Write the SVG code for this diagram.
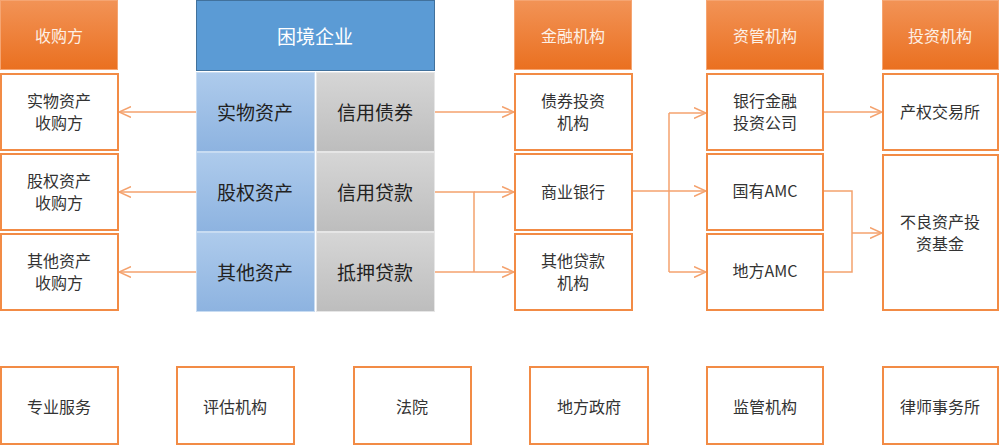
<svg xmlns="http://www.w3.org/2000/svg" width="1000" height="446" viewBox="0 0 1000 446">
<defs>
<linearGradient id="gOrange" x1="0" y1="0" x2="0" y2="1"><stop offset="0" stop-color="#F29356"/><stop offset="1" stop-color="#EA7020"/></linearGradient>
<linearGradient id="gBlue" x1="0" y1="0" x2="0" y2="1"><stop offset="0" stop-color="#AECBEC"/><stop offset="1" stop-color="#8DB3E0"/></linearGradient>
<linearGradient id="gGray" x1="0" y1="0" x2="0" y2="1"><stop offset="0" stop-color="#D6D6D6"/><stop offset="1" stop-color="#BDBDBD"/></linearGradient>
<marker id="arr" viewBox="0 0 10 10" refX="10" refY="5" markerWidth="12" markerHeight="12" markerUnits="userSpaceOnUse" orient="auto"><path d="M0,0.5 L10,5 L0,9.5" fill="none" stroke="#F4A26E" stroke-width="1.3"/></marker>
</defs>
<style>
text{font-family:"Noto Sans CJK SC","Microsoft YaHei",sans-serif;text-anchor:middle;dominant-baseline:central}
.hdr{fill:url(#gOrange);stroke:#F5A572;stroke-width:1}
.hdrt{fill:#FDF0E6;font-size:16px}
.box{fill:#FFFFFF;stroke:#F28B45;stroke-width:2}
.bt{fill:#333333;font-size:16px}
.blue{fill:url(#gBlue);stroke:#C8DCF2;stroke-width:1}
.gray{fill:url(#gGray);stroke:#E6E6E6;stroke-width:1}
.ct{fill:#222222;font-size:19px}
.ln{fill:none;stroke:#F4A26E;stroke-width:1.5}
</style>
<rect width="1000" height="446" fill="#FFFFFF"/>

<g id="col-buyer">
<g id="h1"><rect class="hdr" x="0.5" y="0.5" width="117" height="69"/><text class="hdrt" x="59" y="35">收购方</text></g>
<g id="b11"><rect class="box" x="1" y="74" width="117" height="76"/><text class="bt" x="59" y="100">实物资产</text><text class="bt" x="59" y="122">收购方</text></g>
<g id="b12"><rect class="box" x="1" y="154" width="117" height="76"/><text class="bt" x="59" y="180">股权资产</text><text class="bt" x="59" y="202">收购方</text></g>
<g id="b13"><rect class="box" x="1" y="234" width="117" height="76"/><text class="bt" x="59" y="260">其他资产</text><text class="bt" x="59" y="282">收购方</text></g>
</g>

<g id="col-enterprise">
<g id="ent"><rect x="196.5" y="0.5" width="238" height="70" fill="#5B9BD5" stroke="#41719C" stroke-width="1"/><text x="315" y="35" fill="#FFFFFF" font-size="19">困境企业</text></g>
<g id="c11"><rect class="blue" x="196.5" y="72.5" width="118" height="79"/><text class="ct" x="255" y="111">实物资产</text></g>
<g id="c12"><rect class="gray" x="316.5" y="72.5" width="118" height="79"/><text class="ct" x="375" y="111">信用债券</text></g>
<g id="c21"><rect class="blue" x="196.5" y="152.5" width="118" height="79"/><text class="ct" x="255" y="191">股权资产</text></g>
<g id="c22"><rect class="gray" x="316.5" y="152.5" width="118" height="79"/><text class="ct" x="375" y="191">信用贷款</text></g>
<g id="c31"><rect class="blue" x="196.5" y="232.5" width="118" height="79"/><text class="ct" x="255" y="271">其他资产</text></g>
<g id="c32"><rect class="gray" x="316.5" y="232.5" width="118" height="79"/><text class="ct" x="375" y="271">抵押贷款</text></g>
</g>

<g id="col-finance">
<g id="h3"><rect class="hdr" x="514.5" y="0.5" width="117" height="69"/><text class="hdrt" x="573" y="35">金融机构</text></g>
<g id="b31"><rect class="box" x="515" y="74" width="117" height="76"/><text class="bt" x="573" y="100">债券投资</text><text class="bt" x="573" y="122">机构</text></g>
<g id="b32"><rect class="box" x="515" y="154" width="117" height="76"/><text class="bt" x="573" y="191">商业银行</text></g>
<g id="b33"><rect class="box" x="515" y="234" width="117" height="76"/><text class="bt" x="573" y="260">其他贷款</text><text class="bt" x="573" y="282">机构</text></g>
</g>

<g id="col-am">
<g id="h4"><rect class="hdr" x="706.5" y="0.5" width="117" height="69"/><text class="hdrt" x="765" y="35">资管机构</text></g>
<g id="b41"><rect class="box" x="707" y="74" width="116" height="76"/><text class="bt" x="765" y="100">银行金融</text><text class="bt" x="765" y="122">投资公司</text></g>
<g id="b42"><rect class="box" x="707" y="154" width="116" height="76"/><text class="bt" x="765" y="190">国有AMC</text></g>
<g id="b43"><rect class="box" x="707" y="234" width="116" height="76"/><text class="bt" x="765" y="270">地方AMC</text></g>
</g>

<g id="col-invest">
<g id="h5"><rect class="hdr" x="882.5" y="0.5" width="116" height="69"/><text class="hdrt" x="940" y="35">投资机构</text></g>
<g id="b51"><rect class="box" x="883" y="74" width="115" height="76"/><text class="bt" x="940" y="111">产权交易所</text></g>
<g id="b52"><rect class="box" x="883" y="155" width="115" height="155"/><text class="bt" x="940" y="221">不良资产投</text><text class="bt" x="940" y="243">资基金</text></g>
</g>

<g id="bottom">
<g id="s1"><rect class="box" x="1" y="367" width="117" height="77"/><text class="bt" x="59" y="406">专业服务</text></g>
<g id="s2"><rect class="box" x="177" y="367" width="117" height="77"/><text class="bt" x="235" y="406">评估机构</text></g>
<g id="s3"><rect class="box" x="354" y="367" width="117" height="77"/><text class="bt" x="412" y="406">法院</text></g>
<g id="s4"><rect class="box" x="530" y="367" width="118" height="77"/><text class="bt" x="589" y="406">地方政府</text></g>
<g id="s5"><rect class="box" x="707" y="367" width="116" height="77"/><text class="bt" x="765" y="406">监管机构</text></g>
<g id="s6"><rect class="box" x="883" y="367" width="115" height="77"/><text class="bt" x="940" y="406">律师事务所</text></g>
</g>

<g id="connectors">
<path class="ln" d="M196,112 H119" marker-end="url(#arr)"/>
<path class="ln" d="M196,192 H119" marker-end="url(#arr)"/>
<path class="ln" d="M196,272 H119" marker-end="url(#arr)"/>
<path class="ln" d="M435,112 H514" marker-end="url(#arr)"/>
<path class="ln" d="M435,192 H474 V272"/>
<path class="ln" d="M435,272 H474"/>
<path class="ln" d="M474,192 H514" marker-end="url(#arr)"/>
<path class="ln" d="M474,272 H514" marker-end="url(#arr)"/>
<path class="ln" d="M633,191 H669"/>
<path class="ln" d="M669,113 V272"/>
<path class="ln" d="M669,113 H706" marker-end="url(#arr)"/>
<path class="ln" d="M669,191 H706" marker-end="url(#arr)"/>
<path class="ln" d="M669,272 H706" marker-end="url(#arr)"/>
<path class="ln" d="M824,112 H882" marker-end="url(#arr)"/>
<path class="ln" d="M824,191 H852 V272 H824"/>
<path class="ln" d="M852,233 H882" marker-end="url(#arr)"/>
</g>
</svg>
